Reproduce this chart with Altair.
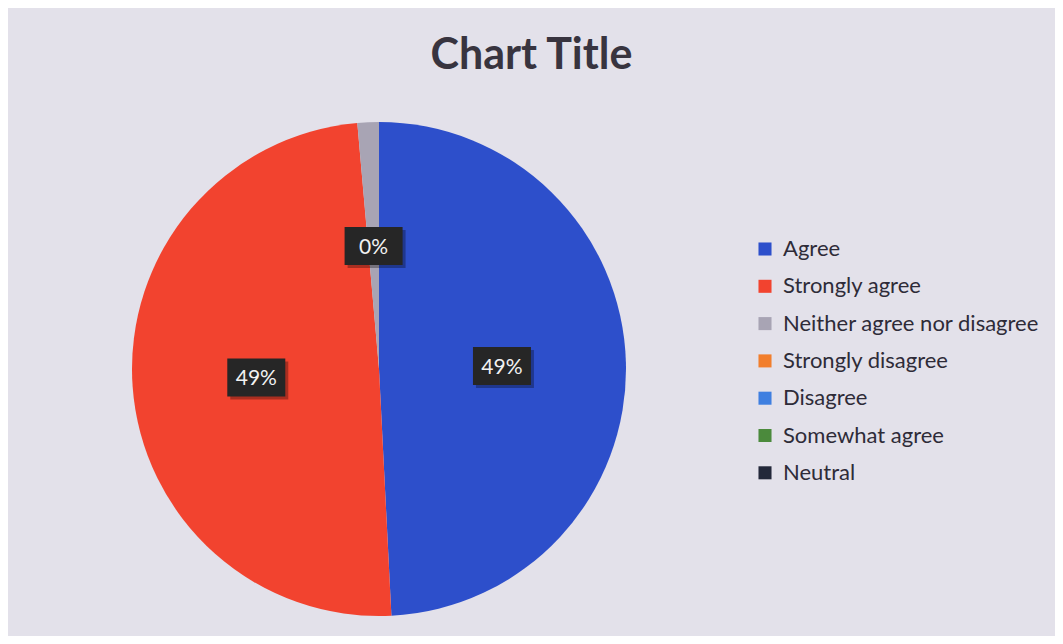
import altair as alt
import pandas as pd

# ---- data ----
categories = ["Agree", "Strongly agree", "Neither agree nor disagree",
              "Strongly disagree", "Disagree", "Somewhat agree", "Neutral"]
values = [49.2, 49.4, 1.4, 0, 0, 0, 0]
labels = ["49%", "49%", "0%", "", "", "", ""]
colors = ["#2d4fcb", "#f2432f", "#a8a4b4", "#f27e2c", "#3f7fe0", "#4b8a3c", "#23283a"]

df = pd.DataFrame({
    "idx": list(range(len(categories))),
    "category": categories,
    "value": values,
    "label": labels,
})

# ---- layout constants ----
W, H = 1047, 548
PAD_TOP = 80
CX, CY = 371, 281
R = 247
LR = 123
FONT = "Lato"

color = alt.Color(
    "category:N",
    scale=alt.Scale(domain=categories, range=colors),
    sort=categories,
    legend=alt.Legend(
        title=None, orient="none", legendX=746, legendY=150,
        symbolType="square", symbolSize=170, symbolStrokeWidth=0,
        labelFontSize=22, labelFont=FONT, labelColor="#2e2b38",
        labelOffset=7, rowPadding=15.3, padding=0, labelLimit=400,
    ),
)

base = alt.Chart(df)

pie = base.mark_arc(outerRadius=R, stroke=None).encode(
    theta=alt.Theta("value:Q", stack=True),
    color=color,
    order=alt.Order("idx:Q", sort="ascending"),
    x=alt.value(CX),
    y=alt.value(CY),
)

lab = base.transform_window(
    cum="sum(value)", sort=[alt.SortField("idx", order="ascending")], frame=[None, 0]
).transform_joinaggregate(
    total="sum(value)"
).transform_calculate(
    mid="(datum.cum - datum.value/2) / datum.total * 2 * PI",
).transform_calculate(
    lx=f"{CX} + {LR} * sin(datum.mid)",
    ly=f"{CY} - {LR} * cos(datum.mid)",
).transform_filter("datum.value > 0")

xenc = alt.X("lx:Q", scale=alt.Scale(domain=[0, W], nice=False, zero=False), axis=None)
yenc = alt.Y("ly:Q", scale=alt.Scale(domain=[0, H], nice=False, zero=False, reverse=True), axis=None)

box_path = "M-1,-0.655H1V0.655H-1Z"
shadow = lab.mark_point(shape=box_path, filled=True, size=58 * 58, color="#000000",
                        opacity=0.3, xOffset=3, yOffset=3, strokeWidth=0).encode(x=xenc, y=yenc)
box = lab.mark_point(shape=box_path, filled=True, size=58 * 58, color="#262626",
                     opacity=1, strokeWidth=0).encode(x=xenc, y=yenc)
txt = lab.mark_text(font=FONT, fontSize=21, color="#f2f2f2", baseline="middle",
                    align="center", dy=2).encode(x=xenc, y=yenc, text="label:N")

chart = alt.layer(pie, shadow, box, txt).properties(
    width=W, height=H,
    autosize=alt.AutoSizeParams(type="none"),
    padding={"top": PAD_TOP, "left": 0, "right": 0, "bottom": 0},
    background="#e3e1ea",
    title=alt.Title("Chart Title", fontSize=43, font=FONT, fontWeight="bold",
                    color="#38343f", anchor="middle", baseline="alphabetic",
                    offset=16, dy=40),
).configure_view(stroke=None)

chart.save("out.html", embed_options={"renderer": "svg", "actions": False})
